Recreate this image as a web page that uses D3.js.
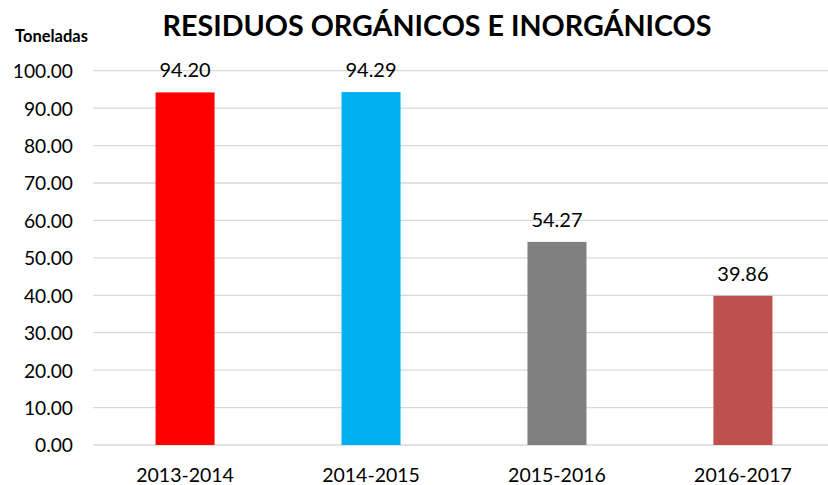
<!DOCTYPE html>
<html><head><meta charset="utf-8">
<script src="https://cdn.jsdelivr.net/npm/d3@7"></script>
<style>body{margin:0;background:#fff}svg{display:block}</style>
</head><body>
<script>
const categories = ["2013-2014","2014-2015","2015-2016","2016-2017"];
const values = [94.20, 94.29, 54.27, 39.86];
const colors = ["#FF0000","#00B0F0","#808080","#C0504D"];
const yTicks = [0,10,20,30,40,50,60,70,80,90,100];

const W = 828, H = 485;
const svg = d3.select("body").append("svg").attr("width", W).attr("height", H);
const font = "Lato, 'Open Sans', sans-serif";

const x = d3.scaleBand().domain(categories).range([92, 836]).paddingInner(0.683).paddingOuter(0.342);
const y = d3.scaleLinear().domain([0,100]).range([445, 70.7]);

// gridlines
svg.append("g").selectAll("line").data(yTicks).join("line")
  .attr("x1", 93).attr("x2", 828)
  .attr("y1", d => y(d)).attr("y2", d => y(d))
  .attr("stroke", "#d9d9d9").attr("stroke-width", 1.3);

// y axis labels
const yAxis = d3.axisLeft(y).tickValues(yTicks).tickFormat(d3.format(".2f")).tickSize(0).tickPadding(0);
const ya = svg.append("g").attr("transform", "translate(73,0)").call(yAxis);
ya.select(".domain").remove();
ya.selectAll("text").attr("font-family", font).attr("font-size", 19.2).attr("fill", "#000").attr("dy", "0.36em");

// bars
const bw = 59;
svg.append("g").selectAll("rect").data(values).join("rect")
  .attr("x", (d,i) => x(categories[i]) + x.bandwidth()/2 - bw/2)
  .attr("width", bw)
  .attr("y", d => y(d))
  .attr("height", d => y(0) - y(d))
  .attr("fill", (d,i) => colors[i]);

// value labels
svg.append("g").selectAll("text").data(values).join("text")
  .attr("x", (d,i) => x(categories[i]) + x.bandwidth()/2)
  .attr("y", d => y(d) - 15)
  .attr("text-anchor", "middle")
  .attr("font-family", font).attr("font-size", 20).attr("fill", "#000")
  .text(d => d.toFixed(2));

// x axis labels
const xAxis = d3.axisBottom(x).tickSize(0).tickPadding(0);
const xa = svg.append("g").attr("transform", "translate(0,482)").call(xAxis);
xa.select(".domain").remove();
xa.selectAll("text").attr("font-family", font).attr("font-size", 19.5).attr("fill", "#000").attr("dy", "0");

// title
svg.append("text").attr("x", 437).attr("y", 36).attr("text-anchor", "middle")
  .attr("font-family", font).attr("font-weight", "bold").attr("font-size", 29)
  .attr("textLength", 549).attr("lengthAdjust", "spacingAndGlyphs")
  .text("RESIDUOS ORGÁNICOS E INORGÁNICOS");

svg.append("text").attr("x", 15).attr("y", 42)
  .attr("font-family", font).attr("font-weight", "bold").attr("font-size", 16.5)
  .text("Toneladas");
</script>
</body></html>
